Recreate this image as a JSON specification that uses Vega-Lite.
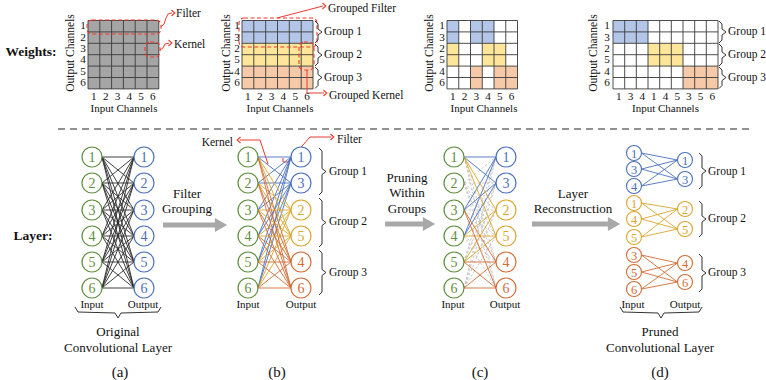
{
"$schema": "https://vega.github.io/schema/vega-lite/v6.json",
"width": 766, "height": 380, "padding": 0, "autosize": {"type": "none"},
"background": "white",
"config": {"view": {"stroke": null}, "text": {"font": "Liberation Serif", "color": "#111111"}},
"datasets": {
"cells": [
{"x":88,"x2":158.8,"y":20.5,"y2":88.9,"c":"all"},
{"x":242,"x2":313,"y":20.5,"y2":43.3,"c":"group1"},
{"x":242,"x2":313,"y":43.3,"y2":66.1,"c":"group2"},
{"x":242,"x2":313,"y":66.1,"y2":88.9,"c":"group3"},
{"x":447,"x2":458.75,"y":20.5,"y2":43.3,"c":"group1"},
{"x":470.5,"x2":494,"y":20.5,"y2":43.3,"c":"group1"},
{"x":447,"x2":458.75,"y":43.3,"y2":66.1,"c":"group2"},
{"x":482.25,"x2":505.75,"y":43.3,"y2":66.1,"c":"group2"},
{"x":470.5,"x2":482.25,"y":66.1,"y2":88.9,"c":"group3"},
{"x":494,"x2":517.5,"y":66.1,"y2":88.9,"c":"group3"},
{"x":613,"x2":648,"y":20.5,"y2":43.3,"c":"group1"},
{"x":648,"x2":683,"y":43.3,"y2":66.1,"c":"group2"},
{"x":683,"x2":718,"y":66.1,"y2":88.9,"c":"group3"}
],
"vlines": [
{"x":[88,99.8,111.6,123.4,135.2,147,158.8],"y":20.5,"y2":88.9},
{"x":[242,253.8,265.7,277.5,289.3,301.2,313],"y":20.5,"y2":88.9},
{"x":[447,458.75,470.5,482.25,494,505.75,517.5],"y":20.5,"y2":88.9},
{"x":[613,624.7,636.3,648,659.7,671.3,683,694.7,706.3,718],"y":20.5,"y2":88.9}
],
"hlines": [
{"y":[20.5,31.9,43.3,54.7,66.1,77.5,88.9],"x":88,"x2":158.8},
{"y":[20.5,31.9,43.3,54.7,66.1,77.5,88.9],"x":242,"x2":313},
{"y":[20.5,31.9,43.3,54.7,66.1,77.5,88.9],"x":447,"x2":517.5},
{"y":[20.5,31.9,43.3,54.7,66.1,77.5,88.9],"x":613,"x2":718}
],
"annotRects": [
{"x":87,"x2":161,"y":20,"y2":34},
{"x":145,"x2":160,"y":42,"y2":57},
{"x":239,"x2":317,"y":18,"y2":47},
{"x":299,"x2":314,"y":42,"y2":70}
],
"annotLines": [
{"id":"f1","x":[161,164,166,168,172],"y":[27,24,18,14,13],"o":[0,1,2,3,4]},
{"id":"k1","x":[160,163,165,169],"y":[50,48,44,43],"o":[0,1,2,3]},
{"id":"f2","x":[277,323],"y":[18,6],"o":[0,1]},
{"id":"k2","x":[307,307,324],"y":[70,93,93],"o":[0,1,2]},
{"id":"k3","x":[268,260,240],"y":[164,140,140],"o":[0,1,2]},
{"id":"f3","x":[283,283,288,310,331],"y":[158,162,162,137,137],"o":[0,1,2,3,4]}
],
"annotHeads": [
{"x":173,"y":13,"d":"r"},{"x":170,"y":43,"d":"r"},{"x":324,"y":6,"d":"r"},
{"x":325,"y":93,"d":"r"},{"x":332,"y":137,"d":"r"},{"x":239,"y":140,"d":"l"}
],
"nodes": [
{"k":"a_i1","n":"1","x":92,"ax":102,"y":157,"c":"input","p":"a"},
{"k":"a_i2","n":"2","x":92,"ax":102,"y":183,"c":"input","p":"a"},
{"k":"a_i3","n":"3","x":92,"ax":102,"y":210,"c":"input","p":"a"},
{"k":"a_i4","n":"4","x":92,"ax":102,"y":236,"c":"input","p":"a"},
{"k":"a_i5","n":"5","x":92,"ax":102,"y":262,"c":"input","p":"a"},
{"k":"a_i6","n":"6","x":92,"ax":102,"y":288,"c":"input","p":"a"},
{"k":"a_o1","n":"1","x":144,"ax":134,"y":157,"c":"output","p":"a"},
{"k":"a_o2","n":"2","x":144,"ax":134,"y":183,"c":"output","p":"a"},
{"k":"a_o3","n":"3","x":144,"ax":134,"y":210,"c":"output","p":"a"},
{"k":"a_o4","n":"4","x":144,"ax":134,"y":236,"c":"output","p":"a"},
{"k":"a_o5","n":"5","x":144,"ax":134,"y":262,"c":"output","p":"a"},
{"k":"a_o6","n":"6","x":144,"ax":134,"y":288,"c":"output","p":"a"},
{"k":"b_i1","n":"1","x":248,"ax":258,"y":157,"c":"input","p":"b"},
{"k":"b_i2","n":"2","x":248,"ax":258,"y":183,"c":"input","p":"b"},
{"k":"b_i3","n":"3","x":248,"ax":258,"y":210,"c":"input","p":"b"},
{"k":"b_i4","n":"4","x":248,"ax":258,"y":236,"c":"input","p":"b"},
{"k":"b_i5","n":"5","x":248,"ax":258,"y":262,"c":"input","p":"b"},
{"k":"b_i6","n":"6","x":248,"ax":258,"y":288,"c":"input","p":"b"},
{"k":"b_o1","n":"1","x":301,"ax":291,"y":157,"c":"group1","p":"b"},
{"k":"b_o3","n":"3","x":301,"ax":291,"y":183,"c":"group1","p":"b"},
{"k":"b_o2","n":"2","x":301,"ax":291,"y":210,"c":"group2","p":"b"},
{"k":"b_o5","n":"5","x":301,"ax":291,"y":236,"c":"group2","p":"b"},
{"k":"b_o4","n":"4","x":301,"ax":291,"y":262,"c":"group3","p":"b"},
{"k":"b_o6","n":"6","x":301,"ax":291,"y":288,"c":"group3","p":"b"},
{"k":"c_i1","n":"1","x":454,"ax":464,"y":157,"c":"input","p":"c"},
{"k":"c_i2","n":"2","x":454,"ax":464,"y":183,"c":"input","p":"c"},
{"k":"c_i3","n":"3","x":454,"ax":464,"y":210,"c":"input","p":"c"},
{"k":"c_i4","n":"4","x":454,"ax":464,"y":236,"c":"input","p":"c"},
{"k":"c_i5","n":"5","x":454,"ax":464,"y":262,"c":"input","p":"c"},
{"k":"c_i6","n":"6","x":454,"ax":464,"y":288,"c":"input","p":"c"},
{"k":"c_o1","n":"1","x":506,"ax":496,"y":157,"c":"group1","p":"c"},
{"k":"c_o3","n":"3","x":506,"ax":496,"y":183,"c":"group1","p":"c"},
{"k":"c_o2","n":"2","x":506,"ax":496,"y":210,"c":"group2","p":"c"},
{"k":"c_o5","n":"5","x":506,"ax":496,"y":236,"c":"group2","p":"c"},
{"k":"c_o4","n":"4","x":506,"ax":496,"y":262,"c":"group3","p":"c"},
{"k":"c_o6","n":"6","x":506,"ax":496,"y":288,"c":"group3","p":"c"},
{"k":"d_1_1","n":"1","x":634,"ax":641.5,"y":153,"c":"group1","p":"d"},
{"k":"d_1_3","n":"3","x":634,"ax":641.5,"y":169,"c":"group1","p":"d"},
{"k":"d_1_4","n":"4","x":634,"ax":641.5,"y":186,"c":"group1","p":"d"},
{"k":"d_2_1","n":"1","x":634,"ax":641.5,"y":203,"c":"group2","p":"d"},
{"k":"d_2_4","n":"4","x":634,"ax":641.5,"y":219,"c":"group2","p":"d"},
{"k":"d_2_5","n":"5","x":634,"ax":641.5,"y":237,"c":"group2","p":"d"},
{"k":"d_3_3","n":"3","x":634,"ax":641.5,"y":255,"c":"group3","p":"d"},
{"k":"d_3_5","n":"5","x":634,"ax":641.5,"y":272,"c":"group3","p":"d"},
{"k":"d_3_6","n":"6","x":634,"ax":641.5,"y":289,"c":"group3","p":"d"},
{"k":"d_o1","n":"1","x":685,"ax":677.5,"y":160,"c":"group1","p":"d"},
{"k":"d_o3","n":"3","x":685,"ax":677.5,"y":179,"c":"group1","p":"d"},
{"k":"d_o2","n":"2","x":685,"ax":677.5,"y":209,"c":"group2","p":"d"},
{"k":"d_o5","n":"5","x":685,"ax":677.5,"y":229,"c":"group2","p":"d"},
{"k":"d_o4","n":"4","x":685,"ax":677.5,"y":263,"c":"group3","p":"d"},
{"k":"d_o6","n":"6","x":685,"ax":677.5,"y":282,"c":"group3","p":"d"}
],
"edges": [
{"s":["a_i1","a_i2","a_i3","a_i4","a_i5","a_i6"],"t":["a_o1","a_o2","a_o3","a_o4","a_o5","a_o6"],"g":"full"},
{"s":["b_i1","b_i2","b_i3","b_i4","b_i5","b_i6"],"t":["b_o1","b_o3"],"g":"group1"},
{"s":["b_i1","b_i2","b_i3","b_i4","b_i5","b_i6"],"t":["b_o2","b_o5"],"g":"group2"},
{"s":["b_i1","b_i2","b_i3","b_i4","b_i5","b_i6"],"t":["b_o4","b_o6"],"g":"group3"},
{"s":["c_i2","c_i5","c_i6"],"t":["c_o1","c_o3"],"g":"pruned"},
{"s":["c_i2","c_i3","c_i6"],"t":["c_o2","c_o5"],"g":"pruned"},
{"s":["c_i1","c_i2","c_i4"],"t":["c_o4","c_o6"],"g":"pruned"},
{"s":["c_i1","c_i3","c_i4"],"t":["c_o1","c_o3"],"g":"group1"},
{"s":["c_i1","c_i4","c_i5"],"t":["c_o2","c_o5"],"g":"group2"},
{"s":["c_i3","c_i5","c_i6"],"t":["c_o4","c_o6"],"g":"group3"},
{"s":["d_1_1","d_1_3","d_1_4"],"t":["d_o1","d_o3"],"g":"group1"},
{"s":["d_2_1","d_2_4","d_2_5"],"t":["d_o2","d_o5"],"g":"group2"},
{"s":["d_3_3","d_3_5","d_3_6"],"t":["d_o4","d_o6"],"g":"group3"}
],
"braces": [
{"id":"tb1","x":[315,318,318,322,318,318,315],"y":[21,24,29,32,35,40,43],"o":[0,1,2,3,4,5,6]},
{"id":"tb2","x":[315,318,318,322,318,318,315],"y":[44,47,52,55,58,63,66],"o":[0,1,2,3,4,5,6]},
{"id":"tb3","x":[315,318,318,322,318,318,315],"y":[67,70,74.5,77.5,80.5,85.5,88.5],"o":[0,1,2,3,4,5,6]},
{"id":"td1","x":[719,722,722,726,722,722,719],"y":[21,24,29,32,35,40,43],"o":[0,1,2,3,4,5,6]},
{"id":"td2","x":[719,722,722,726,722,722,719],"y":[44,47,52,55,58,63,66],"o":[0,1,2,3,4,5,6]},
{"id":"td3","x":[719,722,722,726,722,722,719],"y":[67,70,74.5,77.5,80.5,85.5,88.5],"o":[0,1,2,3,4,5,6]},
{"id":"nb1","x":[319,322,322,326,322,322,319],"y":[148,151,168.5,171.5,174.5,192,195],"o":[0,1,2,3,4,5,6]},
{"id":"nb2","x":[319,322,322,326,322,322,319],"y":[198,201,219.5,222.5,225.5,244,247],"o":[0,1,2,3,4,5,6]},
{"id":"nb3","x":[319,322,322,326,322,322,319],"y":[250,253,269.5,272.5,275.5,292,295],"o":[0,1,2,3,4,5,6]},
{"id":"nd1","x":[699,702,702,706,702,702,699],"y":[153,156,168,171,174,186,189],"o":[0,1,2,3,4,5,6]},
{"id":"nd2","x":[699,702,702,706,702,702,699],"y":[201,204,216,219,222,234,237],"o":[0,1,2,3,4,5,6]},
{"id":"nd3","x":[699,702,702,706,702,702,699],"y":[254,257,270,273,276,289,292],"o":[0,1,2,3,4,5,6]},
{"id":"ba","x":[75,78,115,118,121,158,161],"y":[307,312,313,318,313,312,307],"o":[0,1,2,3,4,5,6]},
{"id":"bd","x":[620,623,658,661,664,699,702],"y":[307,312,313,318,313,312,307],"o":[0,1,2,3,4,5,6]}
],
"bigArrows": [
{"x":163,"x2":221,"y":225},{"x":385,"x2":429,"y":224},{"x":532,"x2":614,"y":224}
],
"digits": [
{"t":["1","2","3","4","5","6"],"x":[93.9,105.7,117.5,129.3,141.1,152.9],"y":[97,97,97,97,97,97]},
{"t":["1","2","3","4","5","6"],"x":[83,83,83,83,83,83],"y":[26.2,37.6,49,60.4,71.8,83.2]},
{"t":["1","2","3","4","5","6"],"x":[247.9,259.8,271.6,283.4,295.3,307.1],"y":[97,97,97,97,97,97]},
{"t":["1","3","2","5","4","6"],"x":[237,237,237,237,237,237],"y":[26.2,37.6,49,60.4,71.8,83.2]},
{"t":["1","2","3","4","5","6"],"x":[452.9,464.6,476.4,488.1,499.9,511.6],"y":[97,97,97,97,97,97]},
{"t":["1","3","2","5","4","6"],"x":[442,442,442,442,442,442],"y":[26.2,37.6,49,60.4,71.8,83.2]},
{"t":["1","3","4","1","4","5","3","5","6"],"x":[618.8,630.5,642.2,653.8,665.5,677.2,688.8,700.5,712.2],"y":[97,97,97,97,97,97,97,97,97]},
{"t":["1","3","2","5","4","6"],"x":[607,607,607,607,607,607],"y":[26.2,37.6,49,60.4,71.8,83.2]}
],
"rotText": [
{"t":"Output Channels","x":71,"y":53},{"t":"Output Channels","x":227,"y":53},
{"t":"Output Channels","x":430,"y":53},{"t":"Output Channels","x":594,"y":53}
],
"smallC": [
{"t":"Input Channels","x":124,"y":108.5},{"t":"Input Channels","x":280,"y":108.5},
{"t":"Input Channels","x":484,"y":108.5},{"t":"Input Channels","x":665.5,"y":108.5},
{"t":"Input","x":92,"y":305},{"t":"Output","x":143,"y":305},
{"t":"Input","x":248,"y":305},{"t":"Output","x":301,"y":305},
{"t":"Input","x":453,"y":305},{"t":"Output","x":505,"y":305},
{"t":"Input","x":633,"y":305},{"t":"Output","x":685,"y":305}
],
"leftT": [
{"t":"Filter","x":176,"y":14},{"t":"Kernel","x":174,"y":45},
{"t":"Grouped Filter","x":328,"y":9},{"t":"Grouped Kernel","x":329,"y":96},
{"t":"Group 1","x":324,"y":32},{"t":"Group 2","x":324,"y":55},{"t":"Group 3","x":324,"y":78},
{"t":"Group 1","x":728,"y":32},{"t":"Group 2","x":728,"y":55},{"t":"Group 3","x":728,"y":78},
{"t":"Group 1","x":329,"y":172},{"t":"Group 2","x":329,"y":222},{"t":"Group 3","x":329,"y":273},
{"t":"Group 1","x":708,"y":172},{"t":"Group 2","x":708,"y":219},{"t":"Group 3","x":708,"y":273},
{"t":"Filter","x":337,"y":140}
],
"rightT": [{"t":"Kernel","x":233,"y":143}],
"medT": [
{"t":"Filter","x":187,"y":194},{"t":"Grouping","x":187,"y":209},
{"t":"Pruning","x":407,"y":178},{"t":"Within","x":407,"y":193},{"t":"Groups","x":407,"y":209},
{"t":"Layer","x":573,"y":194},{"t":"Reconstruction","x":573,"y":209},
{"t":"Original","x":118,"y":332},{"t":"Convolutional Layer","x":118,"y":348},
{"t":"Pruned","x":660,"y":332},{"t":"Convolutional Layer","x":660,"y":348}
],
"caps": [
{"t":"(a)","x":120,"y":372},{"t":"(b)","x":277,"y":372},{"t":"(c)","x":480,"y":372},{"t":"(d)","x":660,"y":372}
],
"boldT": [{"t":"Weights:","x":31,"y":52},{"t":"Layer:","x":33,"y":236}]
},
"encoding": {
"x": {"field":"x","type":"quantitative","scale":{"domain":[0,766],"nice":false,"zero":false},"axis":null},
"y": {"field":"y","type":"quantitative","scale":{"domain":[0,380],"nice":false,"zero":false,"reverse":true},"axis":null}
},
"layer": [
{"data":{"name":"cells"},"mark":{"type":"rect"},
 "encoding":{"x2":{"field":"x2"},"y2":{"field":"y2"},
 "fill":{"field":"c","type":"nominal","scale":{"domain":["all","group1","group2","group3"],"range":["#a5a5a5","#b4c6e7","#fde69a","#f6caa9"]},"legend":null}}},
{"data":{"name":"vlines"},"transform":[{"flatten":["x"]}],"mark":{"type":"rule","color":"#3a3a3a","strokeWidth":0.9},"encoding":{"y2":{"field":"y2"}}},
{"data":{"name":"hlines"},"transform":[{"flatten":["y"]}],"mark":{"type":"rule","color":"#3a3a3a","strokeWidth":0.9},"encoding":{"x2":{"field":"x2"}}},
{"data":{"name":"annotRects"},"mark":{"type":"rect","fillOpacity":0,"stroke":"#ee3b2f","strokeWidth":1.1,"strokeDash":[4,2.5],"cornerRadius":5},"encoding":{"x2":{"field":"x2"},"y2":{"field":"y2"}}},
{"data":{"name":"annotLines"},"transform":[{"flatten":["x","y","o"]}],"mark":{"type":"line","color":"#ee3b2f","strokeWidth":1},
 "encoding":{"detail":{"field":"id","type":"nominal"},"order":{"field":"o","type":"quantitative"}}},
{"data":{"name":"annotHeads"},"mark":{"type":"point","filled":false,"color":"#ee3b2f","strokeWidth":1.1,"size":36,"opacity":1},
 "encoding":{"shape":{"field":"d","type":"nominal","scale":{"domain":["r","l"],"range":["M-0.5,-1L0.6,0L-0.5,1","M0.5,-1L-0.6,0L0.5,1"]},"legend":null}}},
{"data":{"values":[{"x":58,"x2":752,"y":129}]},"mark":{"type":"rule","color":"#6d6d6d","strokeWidth":1.5,"strokeDash":[7,5]},"encoding":{"x2":{"field":"x2"}}},
{"data":{"name":"edges"},"transform":[{"filter":"datum.g === 'pruned'"},{"flatten":["s"]},{"flatten":["t"]},
 {"lookup":"s","from":{"data":{"name":"nodes"},"key":"k","fields":["ax","y"]},"as":["x","y"]},
 {"lookup":"t","from":{"data":{"name":"nodes"},"key":"k","fields":["ax","y"]},"as":["x2","y2"]}],
 "mark":{"type":"rule","strokeWidth":0.8,"strokeDash":[2.5,2]},
 "encoding":{"x2":{"field":"x2"},"y2":{"field":"y2"},
 "stroke":{"field":"g","type":"nominal","scale":{"domain":["input","output","group1","group2","group3","full","pruned"],"range":["#5f8f3f","#4a70bd","#4a70bd","#d9a62e","#d06d37","#2b2b2b","#b8b8b8"]},"legend":null}}},
{"data":{"name":"edges"},"transform":[{"filter":"datum.g !== 'pruned'"},{"flatten":["s"]},{"flatten":["t"]},
 {"lookup":"s","from":{"data":{"name":"nodes"},"key":"k","fields":["ax","y"]},"as":["x","y"]},
 {"lookup":"t","from":{"data":{"name":"nodes"},"key":"k","fields":["ax","y"]},"as":["x2","y2"]}],
 "mark":{"type":"rule","strokeWidth":0.9},
 "encoding":{"x2":{"field":"x2"},"y2":{"field":"y2"},
 "stroke":{"field":"g","type":"nominal","scale":{"domain":["input","output","group1","group2","group3","full","pruned"],"range":["#5f8f3f","#4a70bd","#4a70bd","#d9a62e","#d06d37","#2b2b2b","#b8b8b8"]},"legend":null}}},
{"data":{"name":"nodes"},"transform":[{"filter":"datum.p !== 'd'"}],
 "mark":{"type":"point","shape":"circle","filled":true,"fill":"white","fillOpacity":1,"strokeOpacity":1,"opacity":1,"strokeWidth":1.2,"size":400},
 "encoding":{"stroke":{"field":"c","type":"nominal","scale":{"domain":["input","output","group1","group2","group3","full","pruned"],"range":["#5f8f3f","#4a70bd","#4a70bd","#d9a62e","#d06d37","#2b2b2b","#b8b8b8"]},"legend":null}}},
{"data":{"name":"nodes"},"transform":[{"filter":"datum.p === 'd'"}],
 "mark":{"type":"point","shape":"circle","filled":true,"fill":"white","fillOpacity":1,"strokeOpacity":1,"opacity":1,"strokeWidth":1.1,"size":225},
 "encoding":{"stroke":{"field":"c","type":"nominal","scale":{"domain":["input","output","group1","group2","group3","full","pruned"],"range":["#5f8f3f","#4a70bd","#4a70bd","#d9a62e","#d06d37","#2b2b2b","#b8b8b8"]},"legend":null}}},
{"data":{"name":"nodes"},"transform":[{"filter":"datum.p !== 'd'"}],
 "mark":{"type":"text","font":"Liberation Serif","fontSize":14,"baseline":"middle","align":"center","dy":0.5},
 "encoding":{"text":{"field":"n"},"color":{"field":"c","type":"nominal","scale":{"domain":["input","output","group1","group2","group3"],"range":["#5f8f3f","#4a70bd","#4a70bd","#d9a62e","#d06d37"]},"legend":null}}},
{"data":{"name":"nodes"},"transform":[{"filter":"datum.p === 'd'"}],
 "mark":{"type":"text","font":"Liberation Serif","fontSize":12.5,"baseline":"middle","align":"center","dy":0.5},
 "encoding":{"text":{"field":"n"},"color":{"field":"c","type":"nominal","scale":{"domain":["input","output","group1","group2","group3"],"range":["#5f8f3f","#4a70bd","#4a70bd","#d9a62e","#d06d37"]},"legend":null}}},
{"data":{"name":"braces"},"transform":[{"flatten":["x","y","o"]}],"mark":{"type":"line","color":"#333333","strokeWidth":1},
 "encoding":{"detail":{"field":"id","type":"nominal"},"order":{"field":"o","type":"quantitative"}}},
{"data":{"name":"bigArrows"},"mark":{"type":"rule","color":"#a8a8a8","strokeWidth":5},"encoding":{"x2":{"field":"x2"}}},
{"data":{"name":"bigArrows"},"mark":{"type":"point","shape":"triangle-right","filled":true,"color":"#a8a8a8","opacity":1,"size":200},
 "encoding":{"x":{"field":"x2","type":"quantitative","scale":{"domain":[0,766],"nice":false,"zero":false},"axis":null}}},
{"data":{"name":"digits"},"transform":[{"flatten":["t","x","y"]}],"mark":{"type":"text","font":"Liberation Serif","fontSize":11.2,"baseline":"middle","align":"center"},"encoding":{"text":{"field":"t"}}},
{"data":{"name":"rotText"},"mark":{"type":"text","font":"Liberation Serif","fontSize":11.5,"baseline":"middle","align":"center","angle":270},"encoding":{"text":{"field":"t"}}},
{"data":{"name":"smallC"},"mark":{"type":"text","font":"Liberation Serif","fontSize":11,"baseline":"middle","align":"center"},"encoding":{"text":{"field":"t"}}},
{"data":{"name":"leftT"},"mark":{"type":"text","font":"Liberation Serif","fontSize":11.5,"baseline":"middle","align":"left"},"encoding":{"text":{"field":"t"}}},
{"data":{"name":"rightT"},"mark":{"type":"text","font":"Liberation Serif","fontSize":11.5,"baseline":"middle","align":"right"},"encoding":{"text":{"field":"t"}}},
{"data":{"name":"medT"},"mark":{"type":"text","font":"Liberation Serif","fontSize":13,"baseline":"middle","align":"center"},"encoding":{"text":{"field":"t"}}},
{"data":{"name":"caps"},"mark":{"type":"text","font":"Liberation Serif","fontSize":15,"baseline":"middle","align":"center"},"encoding":{"text":{"field":"t"}}},
{"data":{"name":"boldT"},"mark":{"type":"text","font":"Liberation Serif","fontSize":13.5,"fontWeight":"bold","baseline":"middle","align":"center"},"encoding":{"text":{"field":"t"}}}
]
}
